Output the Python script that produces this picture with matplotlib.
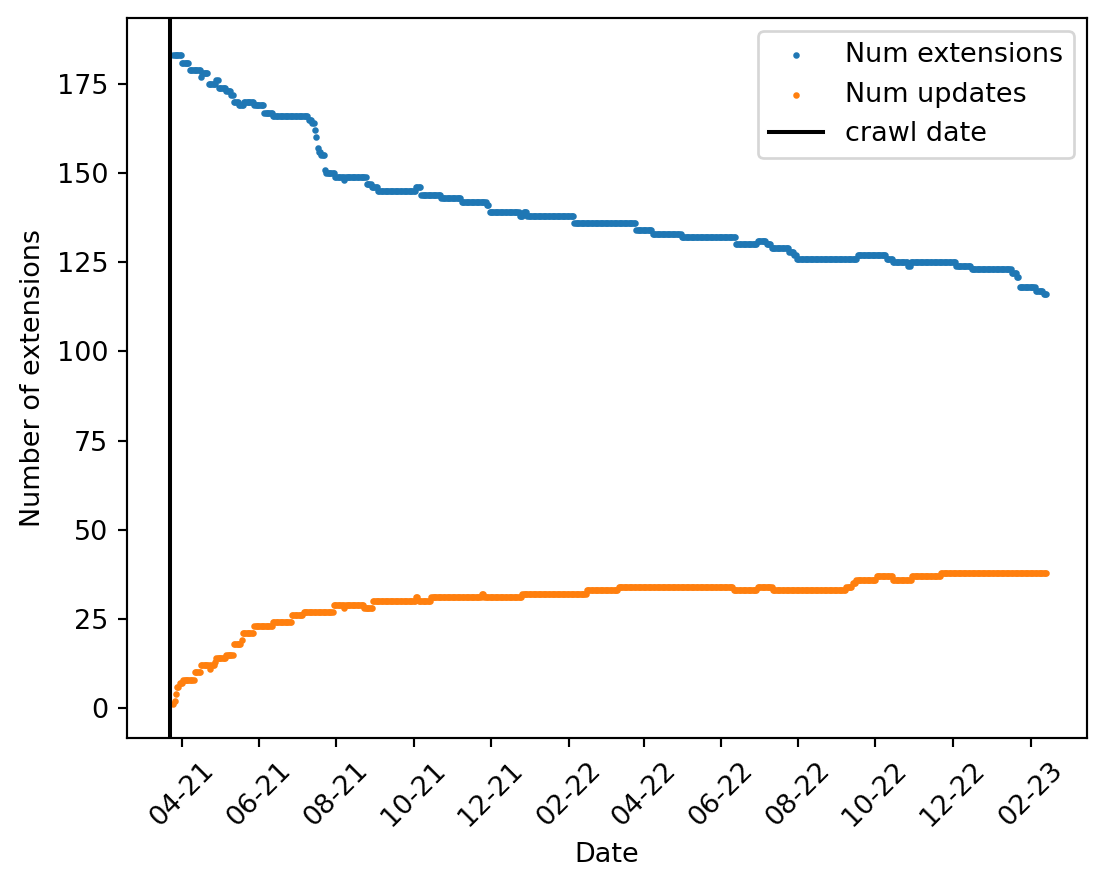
import matplotlib
matplotlib.use("Agg")
import matplotlib.pyplot as plt
import matplotlib.dates as mdates
import pandas as pd

# step changes: (first day of the new value, value)
ext_dates = ["2021-03-25", "2021-04-01", "2021-04-07", "2021-04-16", "2021-04-17",
             "2021-04-22", "2021-04-28", "2021-04-30", "2021-05-06", "2021-05-10",
             "2021-05-12", "2021-05-16", "2021-05-20", "2021-05-28", "2021-06-05",
             "2021-06-12", "2021-07-10", "2021-07-13", "2021-07-15", "2021-07-16",
             "2021-07-17", "2021-07-18", "2021-07-20", "2021-07-23", "2021-07-24",
             "2021-07-31", "2021-08-07", "2021-08-08", "2021-08-25", "2021-08-29",
             "2021-09-03", "2021-10-03", "2021-10-07", "2021-10-23", "2021-11-08",
             "2021-11-28", "2021-11-30", "2021-12-24", "2021-12-27", "2021-12-30",
             "2022-02-05", "2022-03-26", "2022-04-08", "2022-05-01", "2022-06-13",
             "2022-06-30", "2022-07-07", "2022-07-11", "2022-07-25", "2022-07-29",
             "2022-07-31", "2022-09-17", "2022-10-10", "2022-10-15", "2022-10-27",
             "2022-10-29", "2022-12-04", "2022-12-16", "2023-01-17", "2023-01-21",
             "2023-01-23", "2023-02-05", "2023-02-11"]
ext_values = [183, 181, 179, 177, 178,
              175, 176, 174, 173, 172,
              170, 169, 170, 169, 167,
              166, 165, 164, 162, 160,
              157, 156, 155, 151, 150,
              149, 148, 149, 147, 146,
              145, 146, 144, 143, 142,
              141, 139, 138, 139, 138,
              136, 134, 133, 132, 130,
              131, 130, 129, 128, 127,
              126, 127, 126, 125, 124,
              125, 124, 123, 122, 121,
              118, 117, 116]

upd_dates = ["2021-03-25", "2021-03-26", "2021-03-27", "2021-03-28", "2021-03-30",
             "2021-04-02", "2021-04-11", "2021-04-16", "2021-04-23", "2021-04-24",
             "2021-04-27", "2021-04-28", "2021-05-06", "2021-05-12", "2021-05-18",
             "2021-05-19", "2021-05-28", "2021-06-12", "2021-06-27", "2021-07-06",
             "2021-07-30", "2021-08-07", "2021-08-08", "2021-08-23", "2021-08-30",
             "2021-10-03", "2021-10-05", "2021-10-15", "2021-11-24", "2021-11-26",
             "2021-12-26", "2022-02-15", "2022-03-12", "2022-06-11", "2022-06-30",
             "2022-07-12", "2022-09-08", "2022-09-13", "2022-09-16", "2022-10-02",
             "2022-10-15", "2022-10-30", "2022-11-22"]
upd_values = [1, 2, 4, 6, 7,
              8, 10, 12, 11, 12,
              13, 14, 15, 18, 19,
              21, 23, 24, 26, 27,
              29, 28, 29, 28, 30,
              31, 30, 31, 32, 31,
              32, 33, 34, 33, 34,
              33, 34, 35, 36, 37,
              36, 37, 38]

last_day = "2023-02-13"
crawl_date = "2021-03-22"

days = pd.date_range(ext_dates[0], last_day, freq="D")
num_ext = pd.Series(ext_values, index=pd.to_datetime(ext_dates)).reindex(days, method="ffill")
num_upd = pd.Series(upd_values, index=pd.to_datetime(upd_dates)).reindex(days, method="ffill")

fig = plt.figure(figsize=(1112 / 194, 888 / 194), dpi=194)
ax = fig.add_axes([127 / 1112, 1 - 738 / 888, 960 / 1112, 720 / 888])

ax.scatter(days, num_ext, s=2, label="Num extensions")
ax.scatter(days, num_upd, s=2, label="Num updates")
ax.axvline(pd.Timestamp(crawl_date), color="black", label="crawl date")

ax.xaxis.set_major_locator(mdates.MonthLocator(bymonth=[2, 4, 6, 8, 10, 12]))
ax.xaxis.set_major_formatter(mdates.DateFormatter("%m-%y"))
plt.xticks(rotation=45)

x0 = mdates.date2num(pd.Timestamp("2021-04-01"))
x1 = mdates.date2num(pd.Timestamp("2023-02-01"))
ax.set_xlim(x0 - 43.6, x1 + 44.3)
ax.set_ylim(-8.4, 193.5)

ax.set_xlabel("Date")
ax.set_ylabel("Number of extensions")
ax.legend(loc="upper right")

fig.savefig("out.png", dpi=194)
